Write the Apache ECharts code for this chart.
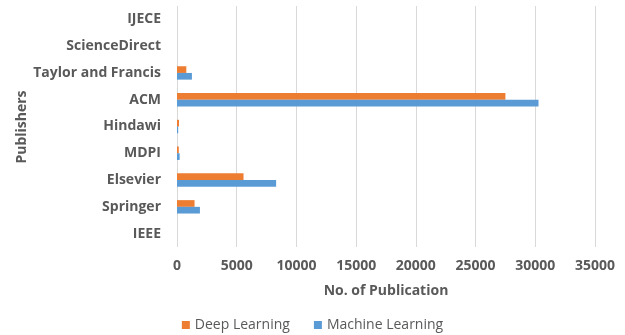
<!DOCTYPE html>
<html><head><meta charset="utf-8">
<script src="https://cdn.jsdelivr.net/npm/echarts@6/dist/echarts.min.js"></script>
<style>html,body{margin:0;padding:0;background:#fff}#c{width:625px;height:335px}</style>
</head><body><div id="c"></div>
<script>
const categories = ['IEEE','Springer','Elsevier','MDPI','Hindawi','ACM','Taylor and Francis','ScienceDirect','IJECE'];
const deepLearning = [0, 1470, 5570, 150, 170, 27500, 780, 0, 0];
const machineLearning = [0, 1920, 8300, 220, 100, 30270, 1250, 0, 0];
const xTicks = [0,5000,10000,15000,20000,25000,30000,35000];
const yTitle = 'Publishers';

const chart = echarts.init(document.getElementById('c'));
const font = 'Open Sans';
chart.setOption({
  animation:false,
  grid:{left:177,right:30,top:6,bottom:88,containLabel:false},
  graphic:[{
    type:'text', x:22, y:127, rotation:Math.PI/2,
    style:{text:yTitle, fontFamily:font, fontSize:14, fontWeight:'bold', fill:'#595959',
      textAlign:'center', textVerticalAlign:'middle'}
  }],
  legend:{
    data:['Deep Learning','Machine Learning'],
    bottom:-2,left:'center',
    icon:'rect',itemWidth:8,itemHeight:8,itemGap:24,
    textStyle:{fontFamily:font,fontSize:14,color:'#595959'}
  },
  xAxis:{
    type:'value',min:0,max:35000,interval:5000,
    name:'No. of Publication',nameLocation:'middle',nameGap:37,
    nameTextStyle:{fontFamily:font,fontSize:14,fontWeight:'bold',color:'#595959'},
    axisLine:{show:false},axisTick:{show:false},
    axisLabel:{fontFamily:font,fontSize:14,fontWeight:'bold',color:'#595959',margin:12,
      formatter:v=>xTicks.includes(v)?String(v):''},
    splitLine:{lineStyle:{color:'#d9d9d9',width:1}}
  },
  yAxis:{
    type:'category',data:categories,
    axisLine:{show:false},axisTick:{show:false},
    axisLabel:{fontFamily:font,fontSize:14,fontWeight:'bold',color:'#595959',margin:16}
  },
  series:[
    {name:'Deep Learning',type:'bar',data:deepLearning,itemStyle:{color:'#ED7D31'},barGap:'0%',barCategoryGap:'50%'},
    {name:'Machine Learning',type:'bar',data:machineLearning,itemStyle:{color:'#5B9BD5'},barGap:'0%',barCategoryGap:'50%'}
  ]
});
</script></body></html>
